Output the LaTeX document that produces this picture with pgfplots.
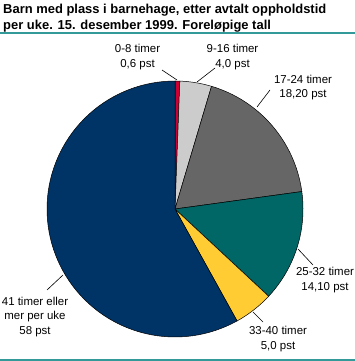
\documentclass[border=0pt]{standalone}
\usepackage{fontspec}
\setmainfont{Liberation Sans}
\usepackage{pgfplots}
\pgfplotsset{compat=1.18}
\definecolor{cRed}{HTML}{CC0033}
\definecolor{cLight}{HTML}{CCCCCC}
\definecolor{cDark}{HTML}{666666}
\definecolor{cTeal}{HTML}{006666}
\definecolor{cYellow}{HTML}{FFCC33}
\definecolor{cNavy}{HTML}{003366}
\definecolor{cRule}{HTML}{339999}
% slice values (pst): 0.6, 4.0, 18.2, 14.1, 5.0, 58  (sum 99.9)
\newcommand{\pieslice}[3]{% #1 cumulative before, #2 value, #3 colour
  \addplot[fill=#3, draw=black, line width=0.5pt, data cs=polar,
    domain={90-360/99.9*(#1+#2)}:{90-360/99.9*(#1)}, samples=80]
    {128} -- (axis cs:0,0) -- cycle;}
\begin{document}
\begin{tikzpicture}
\begin{axis}[
  scale only axis, width=355bp, height=361bp,
  xmin=-175, xmax=180, ymin=-152, ymax=209,
  hide axis, clip=false,
  label style={font=\fontsize{11.5}{14}\selectfont},
]
\pieslice{0}{0.6}{cRed}
\pieslice{0.6}{4.0}{cLight}
\pieslice{4.6}{18.2}{cDark}
\pieslice{22.8}{14.1}{cTeal}
\pieslice{36.9}{5.0}{cYellow}
\pieslice{41.9}{58}{cNavy}
% rules
\addplot[cRule, line width=1.2pt] coordinates {(-175,176) (180,176)};
\addplot[cRule, line width=1.2pt] coordinates {(-175,-151) (180,-151)};
% leader lines
\addplot[black, line width=0.6pt] coordinates {(-13,139) (2,129)};
\addplot[black, line width=0.6pt] coordinates {(40,141) (22,127)};
\addplot[black, line width=0.6pt] coordinates {(95,119) (82,102)};
\addplot[black, line width=0.6pt] coordinates {(138,-56) (123,-40)};
\addplot[black, line width=0.6pt] coordinates {(88,-113) (78,-103)};
\addplot[black, line width=0.6pt] coordinates {(-128,-81) (-112,-66)};
% title
\node[anchor=north west, inner sep=0pt, align=left,
  font=\bfseries\fontsize{13}{16}\selectfont] at (axis cs:-172,205)
  {Barn med plass i barnehage, etter avtalt oppholdstid\\per uke. 15. desember 1999. Foreløpige tall};
% labels
\tikzset{lbl/.style={inner sep=0pt, align=center, font=\fontsize{11.5}{14.5}\selectfont}}
\node[lbl] at (axis cs:-37.5,152) {0-8 timer\\0,6 pst};
\node[lbl] at (axis cs:57.5,152) {9-16 timer\\4,0 pst};
\node[lbl] at (axis cs:128,121.5) {17-24 timer\\18,20 pst};
\node[lbl] at (axis cs:150,-71) {25-32 timer\\14,10 pst};
\node[lbl] at (axis cs:103,-130) {33-40 timer\\5,0 pst};
\node[lbl] at (axis cs:-140,-108) {41 timer eller\\mer per uke\\58 pst};
\end{axis}
\pgfresetboundingbox
\path (current axis.south west) rectangle (current axis.north east);
\end{tikzpicture}
\end{document}
